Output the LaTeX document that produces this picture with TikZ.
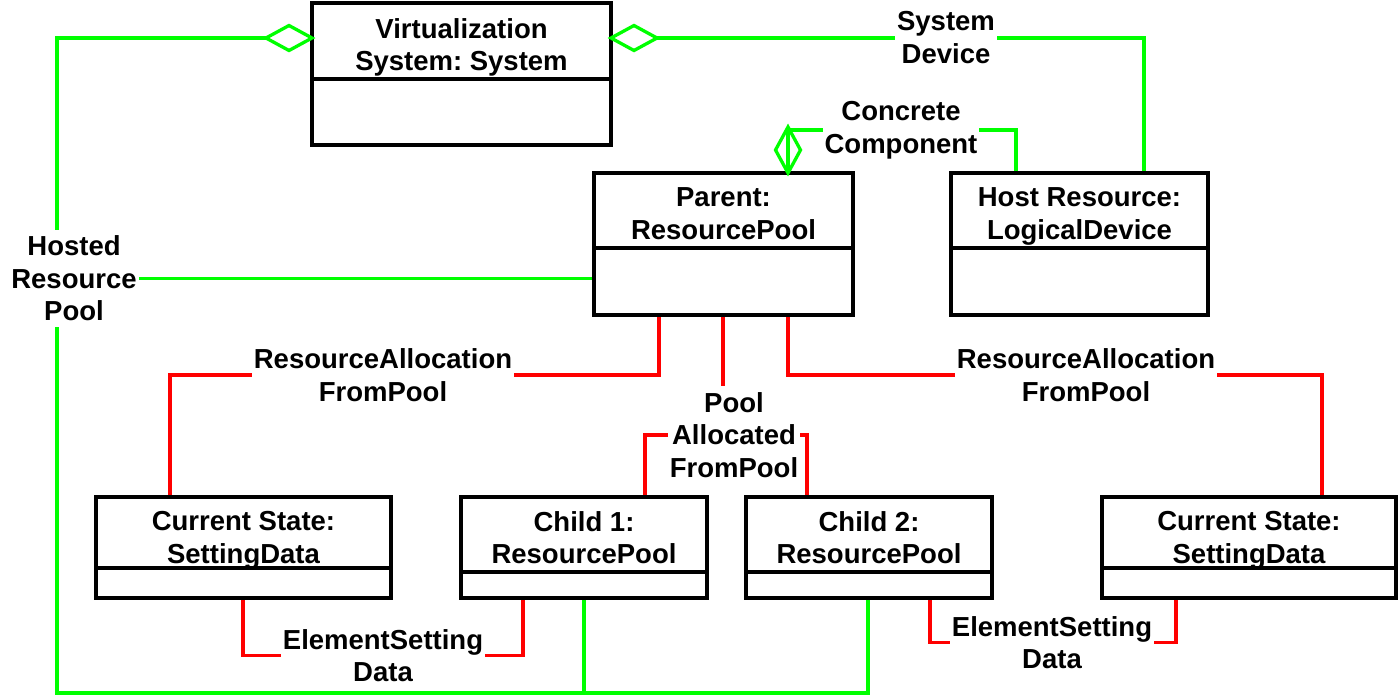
\documentclass[tikz,border=0pt]{standalone}
\usepackage{fontspec}
\setmainfont{Liberation Sans}
\usetikzlibrary{shapes.geometric,backgrounds}
\definecolor{assocgreen}{RGB}{0,255,0}
\definecolor{assocred}{RGB}{255,0,0}
\frenchspacing
\begin{document}
\begin{tikzpicture}[x=1pt,y=-1pt,
  umlbox/.style={draw=black,line width=3.6pt,rectangle,inner sep=0pt,outer sep=0pt,anchor=north west},
  boxrule/.style={draw=black,line width=3.6pt},
  title/.style={font=\bfseries\fontsize{27.5}{32.5}\selectfont,align=center,inner sep=0pt},
  role/.style={font=\bfseries\fontsize{27.5}{32.5}\selectfont,align=center,fill=white,inner xsep=2pt,inner ysep=6pt},
  greenlink/.style={draw=assocgreen,line width=3.3pt},
  redlink/.style={draw=assocred,line width=3.3pt},
  aggr/.style={diamond,draw=assocgreen,line width=3.3pt,inner sep=0pt,outer sep=0pt},
]
\useasboundingbox (0,0) rectangle (1399,697);

% ---- class boxes ----
\node[umlbox,minimum width=299pt,minimum height=142pt] (virt)   at (312,3) {};
\node[umlbox,minimum width=259pt,minimum height=142pt] (parent) at (594,173) {};
\node[umlbox,minimum width=257pt,minimum height=142pt] (host)   at (951,173) {};
\node[umlbox,minimum width=295pt,minimum height=101pt] (csL)    at (96,497) {};
\node[umlbox,minimum width=246pt,minimum height=101pt] (ch1)    at (461,497) {};
\node[umlbox,minimum width=246pt,minimum height=101pt] (ch2)    at (746,497) {};
\node[umlbox,minimum width=294pt,minimum height=101pt] (csR)    at (1102,497) {};

% compartment dividers
\draw[boxrule] ([yshift=-76]virt.north west)   -- ([yshift=-76]virt.north east);
\draw[boxrule] ([yshift=-75]parent.north west) -- ([yshift=-75]parent.north east);
\draw[boxrule] ([yshift=-75]host.north west)   -- ([yshift=-75]host.north east);
\draw[boxrule] ([yshift=-71]csL.north west)    -- ([yshift=-71]csL.north east);
\draw[boxrule] ([yshift=-75]ch1.north west)    -- ([yshift=-75]ch1.north east);
\draw[boxrule] ([yshift=-75]ch2.north west)    -- ([yshift=-75]ch2.north east);
\draw[boxrule] ([yshift=-71]csR.north west)    -- ([yshift=-71]csR.north east);

% class titles
\node[title] (virtT)   at ([yshift=-44.5]virt.north)   {Virtualization\\System: System};
\node[title] (parentT) at ([yshift=-40.5]parent.north) {Parent:\\ResourcePool};
\node[title] (hostT)   at ([yshift=-43.5]host.north)   {Host Resource:\\LogicalDevice};
\node[title] (csLT)    at ([yshift=-43.5]csL.north)    {Current State:\\SettingData};
\node[title] (ch1T)    at ([yshift=-40.5]ch1.north)    {Child 1:\\ResourcePool};
\node[title] (ch2T)    at ([yshift=-40.5]ch2.north)    {Child 2:\\ResourcePool};
\node[title] (csRT)    at ([yshift=-43.5]csR.north)    {Current State:\\SettingData};

% aggregation diamonds
\node[aggr,minimum width=46pt,minimum height=25pt,anchor=east]  (dL) at ([yshift=-35]virt.north west) {};
\node[aggr,minimum width=46pt,minimum height=25pt,anchor=west]  (dR) at ([yshift=-35]virt.north east) {};
\node[aggr,minimum width=25pt,minimum height=46pt,anchor=south] (dC) at ([xshift=194]parent.north west) {};

% association role labels
\node[role] (hrp)  at (74,278.5)   {Hosted\\Resource\\Pool};
\node[role] (sd)   at (946,37.5)   {System\\Device};
\node[role] (cc)   at (901,130)    {Concrete\\Component};
\node[role] (ralL) at (383,375)    {ResourceAllocation\\FromPool};
\node[role] (ralR) at (1086,375)   {ResourceAllocation\\FromPool};
\node[role] (pafp) at (734,435)    {Pool\\Allocated\\FromPool};
\node[role] (esdL) at (383,655.5)  {ElementSetting\\Data};
\node[role] (esdR) at (1052,642.5) {ElementSetting\\Data};

% bus corner and junction for the hosted pool association
\coordinate (busL) at (57,693);
\coordinate (j1) at ([xshift=123]ch1.south west);

\begin{scope}[on background layer]
  % green associations
  \draw[greenlink] (dL.west) -| (busL) -| ([xshift=122]ch2.south west);
  \draw[greenlink] (j1) -- (j1 |- busL);
  \draw[greenlink] (hrp.center) -- (hrp.center -| parent.west);
  \draw[greenlink] (dR.east) -| ([xshift=193]host.north west);
  \draw[greenlink] (dC.north) -- (dC.south);
  \draw[greenlink] (dC.north) |- (cc.center) -| ([xshift=65]host.north west);
  % red associations
  \draw[redlink] ([xshift=65]parent.south west) |- (ralL.center) -| ([xshift=74]csL.north west);
  \draw[redlink] ([xshift=194]parent.south west) |- (ralR.center) -| ([xshift=220]csR.north west);
  \draw[redlink] ([xshift=129]parent.south west) -- ([xshift=-11]pafp.north);
  \draw[redlink] ([xshift=184]ch1.north west) |- (pafp.center) -| ([xshift=61]ch2.north west);
  \draw[redlink] ([xshift=147]csL.south west) |- (esdL.center) -| ([xshift=62]ch1.south west);
  \draw[redlink] ([xshift=184]ch2.south west) |- (esdR.center) -| ([xshift=74]csR.south west);
\end{scope}
\end{tikzpicture}
\end{document}
